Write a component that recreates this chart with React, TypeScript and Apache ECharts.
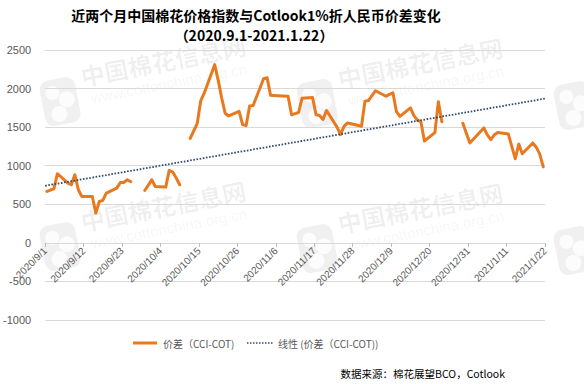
import React, { useEffect, useRef } from "react";
import * as echarts from "echarts";

// ---- data ----
const startDate = "2020-09-01";
const dates: string[] = [
  "2020-09-01", "2020-09-02", "2020-09-03", "2020-09-04", "2020-09-07", "2020-09-08", "2020-09-09",
  "2020-09-10", "2020-09-11", "2020-09-14", "2020-09-15", "2020-09-16", "2020-09-17", "2020-09-18",
  "2020-09-21", "2020-09-22", "2020-09-23", "2020-09-24", "2020-09-25", "2020-09-28",
  "2020-09-29", "2020-09-30", "2020-10-01", "2020-10-02", "2020-10-05", "2020-10-06", "2020-10-07",
  "2020-10-08", "2020-10-09", "2020-10-10",
  "2020-10-12", "2020-10-13", "2020-10-14", "2020-10-15", "2020-10-16", "2020-10-19", "2020-10-20",
  "2020-10-21", "2020-10-22", "2020-10-23", "2020-10-26", "2020-10-27", "2020-10-28", "2020-10-29",
  "2020-10-30", "2020-11-02", "2020-11-03", "2020-11-04", "2020-11-05", "2020-11-06", "2020-11-09",
  "2020-11-10", "2020-11-11", "2020-11-12", "2020-11-13", "2020-11-16", "2020-11-17", "2020-11-18",
  "2020-11-19", "2020-11-20", "2020-11-23", "2020-11-24", "2020-11-25", "2020-11-26", "2020-11-27",
  "2020-11-30", "2020-12-01", "2020-12-02", "2020-12-03", "2020-12-04", "2020-12-07", "2020-12-08",
  "2020-12-09", "2020-12-10", "2020-12-11", "2020-12-14", "2020-12-15", "2020-12-16", "2020-12-17",
  "2020-12-18", "2020-12-21", "2020-12-22", "2020-12-23", "2020-12-24",
  "2020-12-29", "2020-12-30", "2020-12-31", "2021-01-04", "2021-01-05", "2021-01-06", "2021-01-07",
  "2021-01-08", "2021-01-11", "2021-01-12", "2021-01-13", "2021-01-14", "2021-01-15", "2021-01-18",
  "2021-01-19", "2021-01-20", "2021-01-21",
];
const spread: (number | null)[] = [
  666, 685, 700, 896, 775, 753, 883,
  688, 601, 601, 386, 536, 550, 645,
  710, 783, 783, 818, 792, null,
  679, 745, 818, 731, 723, 939, 918,
  840, 753, null,
  1355, 1450, 1545, 1840, 1940, 2310, 2110,
  1880, 1680, 1645, 1705, 1532, 1520, 1775,
  1780, 2128, 2140, 1912, 1910, 1908, 1900,
  1660, 1675, 1690, 1875, 1885, 1660, 1650,
  1600, 1715, 1500, 1403, 1510, 1555, 1545,
  1511, 1835, 1845, 1910, 1972, 1900, 1925,
  1945, 1700, 1640, 1750, 1650, 1590, 1570,
  1320, 1430, 1830, 1570, null,
  1550, 1420, 1295, 1490, 1400, 1338, 1400,
  1430, 1412, 1250, 1090, 1280, 1155, 1295,
  1240, 1150, 985,
];
const trendEnds: number[] = [740, 1870]; // linear trend, first and last day
const yMin = -1000;
const yMax = 2500;
const yStep = 500;
const xDays = 143;
const xStep = 11;
const seriesNames = ["价差（CCI-COT)", "线性 (价差（CCI-COT))"];
const titleLines = ["近两个月中国棉花价格指数与Cotlook1%折人民币价差变化", "（2020.9.1-2021.1.22）"];
const sourceText = "数据来源：棉花展望BCO，Cotlook";
const watermarkName = "中国棉花信息网";
const watermarkUrl = "www.cottonchina.org.cn";

const ORANGE = "#E8791F";
const NAVY = "#2F4A6B";

const DAY = 86400000;
function toUTC(s: string) {
  const [y, m, d] = s.split("-").map(Number);
  return Date.UTC(y, m - 1, d);
}
const t0 = toUTC(startDate);
function dayIndex(s: string) {
  return Math.round((toUTC(s) - t0) / DAY);
}
function dayLabel(v: number) {
  const dt = new Date(t0 + Math.round(v) * DAY);
  return `${dt.getUTCFullYear()}/${dt.getUTCMonth() + 1}/${dt.getUTCDate()}`;
}

function watermark(x: number, y: number, withText: boolean) {
  const children: any[] = [
    { type: "rect", shape: { x: -43, y: -14, width: 36, height: 46, r: 9 }, style: { fill: "rgba(0,0,0,0.06)" } },
    { type: "circle", shape: { cx: -31, cy: -1, r: 7 }, style: { fill: "rgba(255,255,255,0.8)" } },
    { type: "circle", shape: { cx: -18, cy: 8, r: 8 }, style: { fill: "rgba(255,255,255,0.8)" } },
    { type: "circle", shape: { cx: -28, cy: 21, r: 8 }, style: { fill: "rgba(255,255,255,0.8)" } },
  ];
  if (withText) {
    children.push(
      {
        type: "text",
        x: 0,
        y: 0,
        style: {
          text: watermarkName,
          font: 'bold 24px "Noto Sans CJK SC"',
          fill: "rgba(0,0,0,0.065)",
          verticalAlign: "bottom",
        },
      },
      {
        type: "text",
        x: 6,
        y: 4,
        style: {
          text: watermarkUrl,
          font: '15px "Liberation Sans"',
          fill: "rgba(0,0,0,0.055)",
          verticalAlign: "top",
        },
      }
    );
  }
  return { type: "group", x, y, rotation: 0.19, silent: true, z: -5, children };
}

export default function App() {
  const ref = useRef<HTMLDivElement>(null);
  useEffect(() => {
    document.body.style.margin = "0";
    if (!ref.current) return;
    const chart = echarts.init(ref.current, null, { renderer: "svg" });
    const lineData = dates.map((d, i) => [dayIndex(d) + 0.5, spread[i] === null ? "-" : spread[i]]);
    const trendData = [
      [0, trendEnds[0]],
      [xDays, trendEnds[1]],
    ];
    const gridTop = 50;
    const gridBottom = 64;
    const plotH = 384 - gridTop - gridBottom;
    const zeroOffset = -Math.round(((0 - yMin) / (yMax - yMin)) * plotH);
    const axisFont = { fontFamily: "Liberation Sans", color: "#595959" };
    const legendText = { fontSize: 10, fill: "#595959", fontFamily: "Noto Sans CJK SC", verticalAlign: "middle" };
    chart.setOption({
      animation: false,
      backgroundColor: "#ffffff",
      grid: { left: 44, right: 39, top: gridTop, bottom: gridBottom, containLabel: false },
      xAxis: {
        type: "value",
        min: 0,
        max: xDays,
        interval: xStep,
        offset: zeroOffset,
        axisLine: { show: true, onZero: false, lineStyle: { color: "#D9D9D9", width: 1 } },
        axisTick: { show: true, length: 4, lineStyle: { color: "#BFBFBF" } },
        splitLine: { show: false },
        axisLabel: {
          ...axisFont,
          fontSize: 10,
          rotate: 45,
          margin: 6,
          formatter: (v: number) => dayLabel(v),
        },
      },
      yAxis: {
        type: "value",
        min: yMin,
        max: yMax,
        interval: yStep,
        axisLine: { show: false, onZero: false },
        axisTick: { show: false },
        splitLine: { lineStyle: { color: "#D9D9D9", width: 1 } },
        axisLabel: { ...axisFont, fontSize: 11, margin: 14, formatter: (v: number) => String(v) },
      },
      series: [
        {
          name: seriesNames[0],
          type: "line",
          data: lineData,
          symbol: "none",
          connectNulls: false,
          lineStyle: { color: ORANGE, width: 3, join: "round", cap: "round" },
          itemStyle: { color: ORANGE },
          z: 3,
        },
        {
          name: seriesNames[1],
          type: "line",
          data: trendData,
          symbol: "none",
          lineStyle: { color: NAVY, width: 1.8, type: [1.6, 1.6] },
          itemStyle: { color: NAVY },
          z: 4,
        },
      ],
      graphic: [
        watermark(83, 88, true),
        watermark(340, 90, true),
        watermark(597, 92, false),
        watermark(83, 233, true),
        watermark(340, 235, true),
        watermark(597, 237, false),
        // legend (drawn by hand so its keys are plain lines)
        { type: "line", shape: { x1: 133, y1: 343, x2: 157, y2: 343 }, style: { stroke: ORANGE, lineWidth: 3 } },
        { type: "text", x: 163, y: 343, style: { ...legendText, text: seriesNames[0] } },
        {
          type: "line",
          shape: { x1: 247, y1: 343, x2: 273, y2: 343 },
          style: { stroke: NAVY, lineWidth: 1.6, lineDash: [1.5, 1.5] },
        },
        { type: "text", x: 278, y: 343, style: { ...legendText, text: seriesNames[1] } },
        {
          type: "text",
          x: 256,
          y: 15,
          style: {
            text: titleLines[0],
            font: 'bold 14px "Noto Sans CJK SC"',
            fill: "#000000",
            align: "center",
            verticalAlign: "middle",
          },
        },
        {
          type: "text",
          x: 254,
          y: 35,
          style: {
            text: titleLines[1],
            font: 'bold 14px "Noto Sans CJK SC"',
            fill: "#000000",
            align: "center",
            verticalAlign: "middle",
          },
        },
        {
          type: "text",
          x: 505,
          y: 373,
          style: {
            text: sourceText,
            font: '10.5px "Noto Sans CJK SC"',
            fill: "#000000",
            align: "right",
            verticalAlign: "middle",
          },
        },
      ],
    });
    return () => chart.dispose();
  }, []);
  return <div ref={ref} style={{ width: 584, height: 384 }} />;
}
